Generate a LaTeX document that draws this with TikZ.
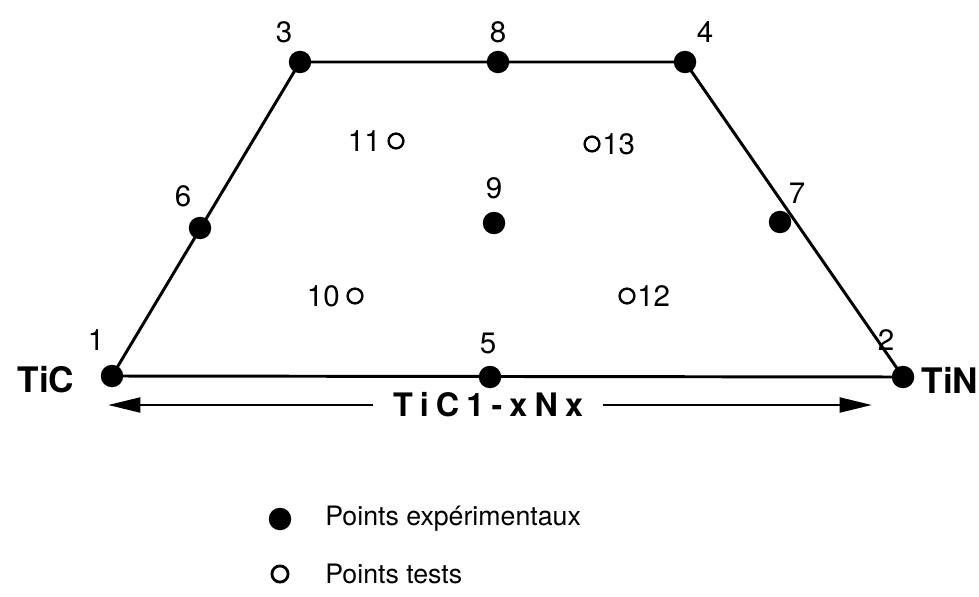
\documentclass[tikz,border=0pt]{standalone}
\usepackage{fontspec}
\setmainfont{TeX Gyre Heros}
\usetikzlibrary{arrows.meta}

\begin{document}
\begin{tikzpicture}[x=0.025cm,y=-0.025cm,>={Triangle[length=23pt,width=10.5pt]},
  exp/.style={circle,fill,inner sep=0pt,minimum size=16pt},
  tst/.style={circle,draw,line width=1.7pt,inner sep=0pt,minimum size=10.5pt},
  num/.style={inner sep=1pt,font=\fontsize{21}{24}\selectfont},
  comp/.style={inner sep=1pt,font=\fontsize{25}{28}\selectfont\bfseries},
  legend/.style={anchor=west,inner sep=0pt,font=\fontsize{19}{22}\selectfont}]
  \useasboundingbox (0,0) rectangle (979,597);
  % corners and edge points
  \node[exp] (p1) at (112,376) {};
  \node[exp] (p2) at (903,377) {};
  \node[exp] (p3) at (300,62) {};
  \node[exp] (p4) at (685,62) {};
  \node[exp] (p5) at (490,377) {};
  \node[exp] (p6) at (200,228) {};
  \node[exp] (p7) at (780,222) {};
  \node[exp] (p8) at (498,62) {};
  \node[exp] (p9) at (494,223) {};
  % test points
  \node[tst] (p10) at (355,296) {};
  \node[tst] (p11) at (396,141) {};
  \node[tst] (p12) at (627,296) {};
  \node[tst] (p13) at (592,144) {};
  \draw[line width=2.1pt,line join=round] (p1.center) -- (p3.center) -- (p4.center)
    -- (p2.center) -- cycle;
  % numbers
  \node[num] (n1) at (96,340) {1};
  \node[num] (n2) at (886,340) {2};
  \node[num] (n3) at (284,32) {3};
  \node[num] (n4) at (705,32) {4};
  \node[num] (n5) at (488,343) {5};
  \node[num] (n6) at (183,196) {6};
  \node[num] (n7) at (797,193) {7};
  \node[num] (n8) at (498,32) {8};
  \node[num] (n9) at (494,188) {9};
  \node[num,anchor=east] (n10) at (p10.west) {10\,};
  \node[num,anchor=east] (n11) at (p11.west) {11\,};
  \node[num,anchor=west] (n12) at (p12.east) {12};
  \node[num,anchor=west] (n13) at (p13.east) {13};
  \node[comp] (tic) at (46,380) {TiC};
  \node[comp] (tin) at (950,380) {TiN};
  % composition axis
  \node[comp,inner sep=0pt,font=\fontsize{23}{26}\selectfont\bfseries] (axe) at (488,405)
    {\addfontfeature{LetterSpace=22}TiC1-xNx};
  \coordinate (ga) at (108,405);
  \coordinate (dr) at (872,405);
  \draw[->,line width=2pt] ([xshift=-14pt]axe.west) -- (ga);
  \draw[->,line width=2pt] ([xshift=14pt]axe.east) -- (dr);
  % legend
  \node[exp] (le) at (280,519) {};
  \node[tst,minimum size=11.5pt,line width=2pt] (lt) at (280,574) {};
  \node[legend] (te) at (325,519) {Points expérimentaux};
  \node[legend] (tt) at (325,574) {Points tests};
\end{tikzpicture}
\end{document}
